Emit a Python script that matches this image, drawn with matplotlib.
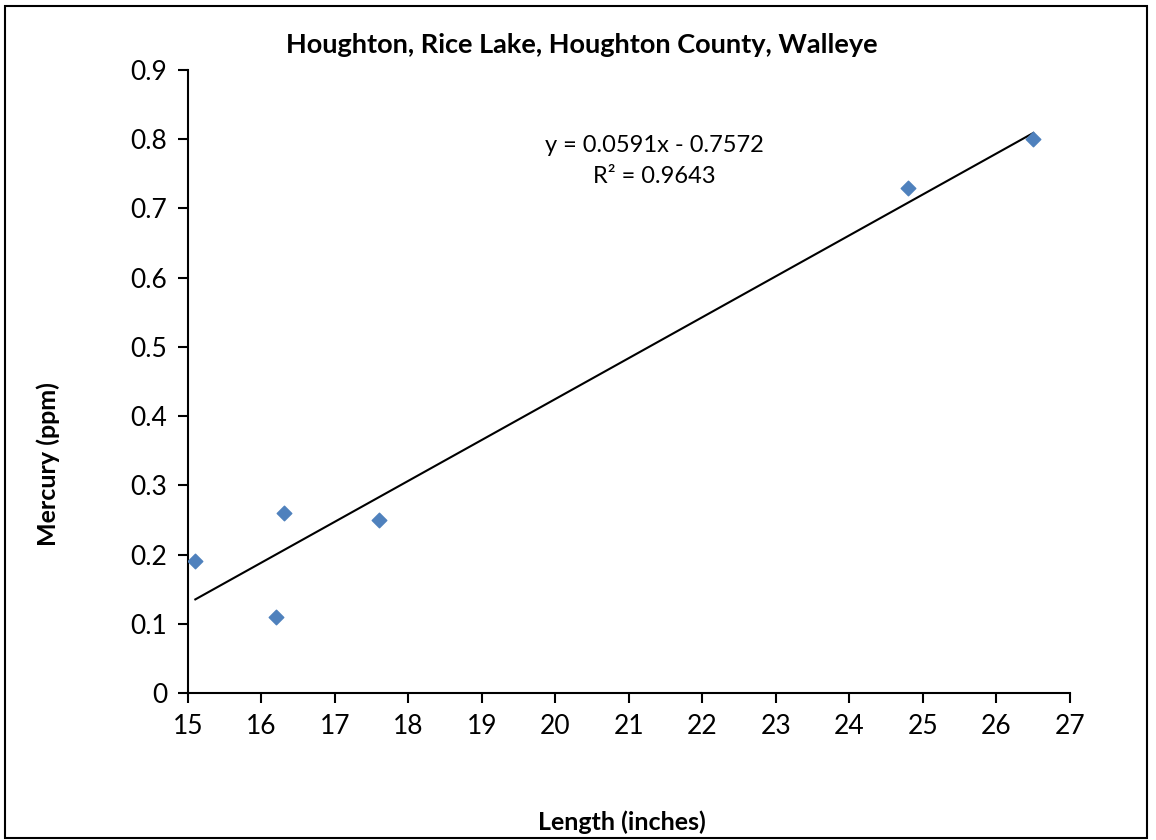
import numpy as np
import matplotlib.pyplot as plt
from matplotlib.patches import Rectangle

plt.rcParams['font.family'] = ['Lato', 'DejaVu Sans']

# Data points
length = [15.1, 16.2, 16.3, 17.6, 24.8, 26.5]
mercury = [0.19, 0.11, 0.26, 0.25, 0.73, 0.80]

slope = 0.0591
intercept = -0.7572
r2 = 0.9643

fig = plt.figure(figsize=(11.56, 8.4), dpi=100)
ax = fig.add_axes([0.1626, 0.175, 0.763, 0.7417])

ax.scatter(length, mercury, marker='D', s=55, color='#4F81BD', zorder=3)

xl = np.array([min(length), max(length)])
ax.plot(xl, slope * xl + intercept, color='black', lw=1.5)

ax.set_xlim(15, 27)
ax.set_ylim(0, 0.9)
ax.set_xticks(np.arange(15, 28, 1))
ax.set_yticks(np.arange(0, 0.91, 0.1))
ax.set_yticklabels(['0'] + ['%.1f' % v for v in np.arange(0.1, 0.91, 0.1)])
ax.tick_params(direction='out', length=7, width=1.5, labelsize=19, pad=8)
for s in ['top', 'right']:
    ax.spines[s].set_visible(False)
for s in ['left', 'bottom']:
    ax.spines[s].set_linewidth(1.5)

fig.text(0.503, 0.946, 'Houghton, Rice Lake, Houghton County, Walleye',
         ha='center', va='center', fontsize=19.5, fontweight='bold')
fig.text(0.042, 0.447, 'Mercury (ppm)', rotation=90, ha='center', va='center',
         fontsize=18, fontweight='bold')
fig.text(0.538, 0.021, 'Length (inches)', ha='center', va='center',
         fontsize=18, fontweight='bold')
ax.text(21.35, 0.768, 'y = %.4fx - %.4f\nR² = %.4f' % (slope, -intercept, r2),
        ha='center', va='center', fontsize=17, linespacing=1.6)

fig.patches.append(Rectangle((0.004, 0.002), 0.988, 0.991, transform=fig.transFigure,
                             fill=False, edgecolor='black', lw=1.5))

fig.savefig('out.png', dpi=100)
